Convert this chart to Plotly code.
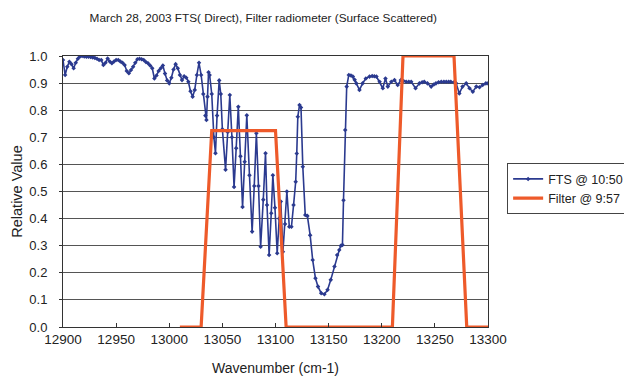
import plotly.graph_objects as go

# FTS direct-beam spectrum, relative value vs wavenumber (cm-1)
fts_wavenumber = [
    12900, 12902, 12904, 12906, 12908, 12910, 12912, 12914, 12916, 12918,
    12920, 12922, 12924, 12926, 12928, 12930, 12932, 12934, 12936, 12938,
    12940, 12942, 12944, 12946, 12948, 12950, 12952, 12954, 12956, 12958,
    12960, 12962, 12964, 12966, 12968, 12970, 12972, 12974, 12976, 12978,
    12980, 12982, 12984, 12986, 12988, 12990, 12992, 12994, 12996, 12998,
    13000, 13002, 13004, 13006, 13008, 13010, 13012, 13014, 13016, 13018,
    13020, 13022, 13024, 13026, 13028, 13030, 13032, 13034, 13035, 13036,
    13037, 13038, 13040, 13042, 13043.5, 13045, 13047, 13048.5, 13050, 13053,
    13055, 13057, 13059, 13061, 13063, 13065, 13067, 13069, 13071, 13073,
    13075.5, 13078, 13080, 13082, 13084, 13086, 13088.5, 13090.6, 13092, 13094,
    13096, 13097.5, 13099.5, 13101.6, 13103.5, 13105, 13107, 13109, 13110.7, 13113,
    13115, 13117, 13119, 13120, 13121, 13122.6, 13124, 13125.7, 13128, 13130,
    13132.6, 13135, 13137.6, 13140, 13143, 13146, 13149, 13152, 13155.5, 13158,
    13160, 13161.5, 13163, 13164, 13165.6, 13167, 13169, 13171, 13172.8, 13174.5,
    13176, 13179, 13182, 13185, 13188.5, 13191, 13193, 13195, 13198, 13201,
    13203.5, 13205.7, 13209, 13212, 13215, 13218, 13220.5, 13223, 13225.5, 13227.7,
    13231.8, 13235.5, 13238, 13240, 13243, 13246.5, 13249, 13251, 13253.5, 13256,
    13258.5, 13260.7, 13263, 13265, 13268, 13270, 13273, 13276, 13279.5, 13282.6,
    13285.7, 13289, 13292, 13295, 13298, 13300,
]
fts_value = [
    0.985, 0.930, 0.960, 0.979, 0.970, 0.955, 0.975, 0.990, 0.998, 1.000,
    0.998, 0.997, 0.997, 0.996, 0.995, 0.993, 0.990, 0.985, 0.985, 0.967,
    0.975, 0.991, 0.980, 0.973, 0.980, 0.985, 0.985, 0.980, 0.975, 0.967,
    0.945, 0.936, 0.948, 0.960, 0.975, 0.988, 0.990, 0.988, 0.985, 0.978,
    0.973, 0.965, 0.955, 0.917, 0.928, 0.945, 0.955, 0.965, 0.935, 0.910,
    0.899, 0.920, 0.950, 0.970, 0.955, 0.930, 0.911, 0.925, 0.920, 0.905,
    0.870, 0.850, 0.875, 0.930, 0.975, 0.930, 0.860, 0.780, 0.764, 0.850,
    0.940, 0.930, 0.860, 0.700, 0.641, 0.780, 0.910, 0.860, 0.730, 0.580,
    0.720, 0.856, 0.700, 0.517, 0.660, 0.813, 0.630, 0.443, 0.610, 0.781,
    0.560, 0.352, 0.520, 0.715, 0.520, 0.296, 0.470, 0.641, 0.450, 0.266,
    0.420, 0.560, 0.440, 0.272, 0.400, 0.463, 0.278, 0.380, 0.500, 0.370,
    0.370, 0.450, 0.536, 0.640, 0.776, 0.819, 0.810, 0.591, 0.413, 0.410,
    0.339, 0.247, 0.180, 0.149, 0.125, 0.121, 0.137, 0.174, 0.223, 0.266,
    0.284, 0.300, 0.303, 0.468, 0.727, 0.887, 0.930, 0.928, 0.924, 0.912,
    0.899, 0.875, 0.899, 0.917, 0.924, 0.926, 0.925, 0.924, 0.905, 0.881,
    0.917, 0.887, 0.905, 0.911, 0.893, 0.911, 0.908, 0.905, 0.905, 0.905,
    0.881, 0.899, 0.903, 0.905, 0.899, 0.887, 0.895, 0.899, 0.903, 0.905,
    0.905, 0.905, 0.905, 0.905, 0.903, 0.899, 0.862, 0.887, 0.899, 0.881,
    0.868, 0.887, 0.885, 0.893, 0.899, 0.899,
]

# Filter radiometer passbands, relative value vs wavenumber (cm-1)
filter_wavenumber = [13010, 13030, 13040, 13100, 13110, 13210, 13220, 13268, 13280, 13300]
filter_value = [0.0, 0.0, 0.725, 0.725, 0.0, 0.0, 1.0, 1.0, 0.0, 0.0]

x_ticks = [12900, 12950, 13000, 13050, 13100, 13150, 13200, 13250, 13300]
y_ticks = [0.0, 0.1, 0.2, 0.3, 0.4, 0.5, 0.6, 0.7, 0.8, 0.9, 1.0]

FONT = "Liberation Sans, Arial, sans-serif"

fig = go.Figure()
fig.add_trace(go.Scatter(
    x=fts_wavenumber, y=fts_value, mode="lines+markers",
    name="FTS @ 10:50",
    line=dict(color="#2B3A8F", width=1.6),
    marker=dict(symbol="diamond", size=3.5, color="#2B3A8F"),
))
fig.add_trace(go.Scatter(
    x=filter_wavenumber, y=filter_value, mode="lines",
    name="Filter @ 9:57",
    line=dict(color="#EE5A2A", width=3.2),
))

fig.update_layout(
    width=624, height=379,
    margin=dict(l=63, r=136, t=56, b=52, autoexpand=False),
    paper_bgcolor="white", plot_bgcolor="white",
    font=dict(family=FONT, size=13, color="#222"),
    title=dict(
        text="March 28, 2003 FTS( Direct), Filter radiometer (Surface Scattered)",
        font=dict(family=FONT, size=11.8, color="#222"),
        x=0.422, xanchor="center", y=0.953, yanchor="middle",
    ),
    legend=dict(
        x=1.045, xanchor="left", y=0.51, yanchor="middle",
        bordercolor="#444", borderwidth=1, bgcolor="white",
        font=dict(family=FONT, size=12.5, color="#222"),
        tracegroupgap=0, itemwidth=30,
    ),
    showlegend=True,
)
fig.update_xaxes(
    range=[12900, 13300], tickvals=x_ticks, ticktext=[str(v) for v in x_ticks],
    showgrid=False, showline=True, linecolor="#333", linewidth=1, mirror=True,
    ticks="inside", ticklen=4, tickcolor="#333",
    tickfont=dict(family=FONT, size=13.5),
    title=dict(text="Wavenumber (cm-1)", font=dict(family=FONT, size=14), standoff=16),
)
fig.update_yaxes(
    range=[0, 1.0], tickvals=y_ticks, ticktext=[f"{v:.1f}" for v in y_ticks],
    showgrid=True, gridcolor="#555", gridwidth=1,
    showline=True, linecolor="#333", linewidth=1, mirror=True,
    ticks="outside", ticklen=3, tickcolor="#333", ticklabelstandoff=9,
    tickfont=dict(family=FONT, size=13),
    title=dict(text="Relative Value", font=dict(family=FONT, size=14.5), standoff=3),
)

fig.write_html("out.html")
